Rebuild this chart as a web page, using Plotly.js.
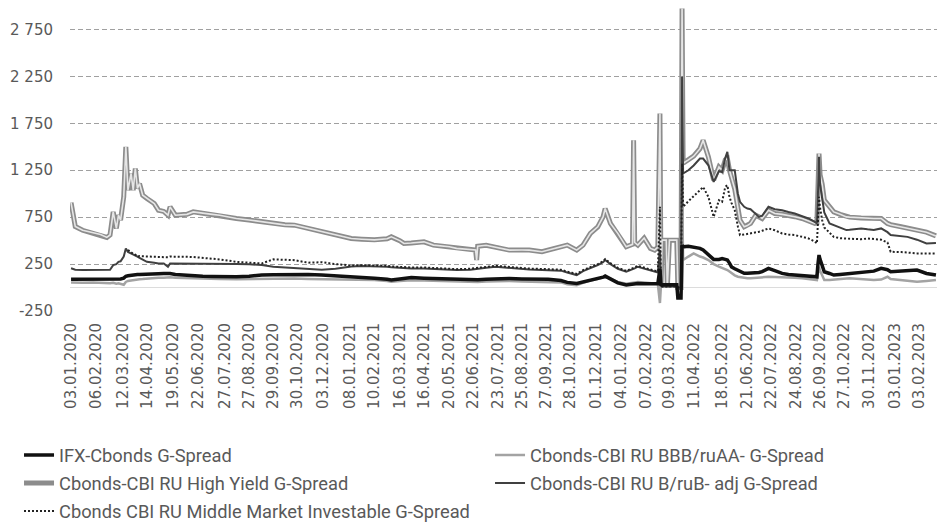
<!DOCTYPE html>
<html><head><meta charset="utf-8">
<script src="https://cdn.plot.ly/plotly-3.0.1.min.js"></script>
<style>html,body{margin:0;padding:0;background:#fff}#chart{width:939px;height:525px}</style>
</head><body><div id="chart"></div>
<script>
const xLabels = ['03.01.2020','06.02.2020','12.03.2020','14.04.2020','19.05.2020','22.06.2020','27.07.2020','27.08.2020','29.09.2020','30.10.2020','03.12.2020','08.01.2021','10.02.2021','16.03.2021','16.04.2021','20.05.2021','22.06.2021','23.07.2021','25.08.2021','27.09.2021','28.10.2021','01.12.2021','04.01.2022','07.02.2022','09.03.2022','11.04.2022','18.05.2022','21.06.2022','22.07.2022','24.08.2022','26.09.2022','27.10.2022','30.11.2022','03.01.2023','03.02.2023'];

const dates = ['03.01.2020','09.01.2020','20.01.2020','03.02.2020','12.02.2020','20.02.2020','25.02.2020','28.02.2020','04.03.2020','06.03.2020','10.03.2020','13.03.2020','17.03.2020','19.03.2020','24.03.2020','26.03.2020','30.03.2020','01.04.2020','03.04.2020','08.04.2020','14.04.2020','23.04.2020','29.04.2020','06.05.2020','12.05.2020','14.05.2020','21.05.2020','05.06.2020','15.06.2020','26.06.2020','09.07.2020','20.07.2020','11.08.2020','27.08.2020','14.09.2020','29.09.2020','14.10.2020','27.10.2020','13.11.2020','02.12.2020','21.12.2020','11.01.2021','25.01.2021','10.02.2021','26.02.2021','04.03.2021','16.03.2021','22.03.2021','31.03.2021','16.04.2021','29.04.2021','20.05.2021','31.05.2021','17.06.2021','24.06.2021','25.06.2021','28.06.2021','08.07.2021','21.07.2021','09.08.2021','25.08.2021','03.09.2021','21.09.2021','29.09.2021','15.10.2021','25.10.2021','05.11.2021','15.11.2021','24.11.2021','03.12.2021','10.12.2021','14.12.2021','21.12.2021','30.12.2021','11.01.2022','19.01.2022','20.01.2022','21.01.2022','26.01.2022','03.02.2022','11.02.2022','17.02.2022','22.02.2022','24.02.2022','25.02.2022','28.02.2022','04.03.2022','07.03.2022','09.03.2022','18.03.2022','21.03.2022','24.03.2022','25.03.2022','28.03.2022','04.04.2022','11.04.2022','19.04.2022','22.04.2022','29.04.2022','06.05.2022','13.05.2022','18.05.2022','23.05.2022','25.05.2022','27.05.2022','31.05.2022','03.06.2022','08.06.2022','10.06.2022','16.06.2022','21.06.2022','24.06.2022','01.07.2022','06.07.2022','11.07.2022','19.07.2022','27.07.2022','05.08.2022','15.08.2022','23.08.2022','01.09.2022','09.09.2022','19.09.2022','21.09.2022','22.09.2022','23.09.2022','26.09.2022','28.09.2022','30.09.2022','07.10.2022','13.10.2022','21.10.2022','31.10.2022','03.11.2022','18.11.2022','28.11.2022','06.12.2022','15.12.2022','23.12.2022','28.12.2022','11.01.2023','19.01.2023','01.02.2023','14.02.2023','27.02.2023'];

const hy = [905,650,610,580,565,534,560,806,630,771,719,966,1498,1037,1215,1037,1268,1055,1108,984,949,895,824,811,771,860,771,780,806,789,780,771,736,720,700,680,668,665,630,594,560,523,515,508,520,540,500,470,475,487,452,435,417,399,400,293,440,450,431,399,400,399,381,399,434,452,399,452,577,647,753,842,683,577,434,460,1569,480,452,527,417,399,430,1855,0,505,505,0,505,505,0,0,2973,1324,1360,1400,1480,1569,1392,1144,1285,1250,1360,1374,1250,1179,1050,850,718,647,660,683,771,760,736,824,789,780,771,755,736,710,683,690,1000,1428,1200,1100,931,860,806,780,753,750,740,736,736,736,683,670,647,630,612,590,550];

const bbb = [55,52,52,55,50,48,45,50,40,45,37,30,60,70,75,80,82,85,88,90,95,100,105,105,110,110,105,100,98,95,92,90,88,90,92,95,95,95,92,90,88,85,85,80,70,62,70,75,78,75,72,68,65,60,58,58,60,65,70,70,65,63,62,60,55,35,25,50,75,90,105,115,95,60,40,50,55,55,60,55,45,40,40,-165,30,20,20,20,20,20,0,0,1000,293,330,364,330,320,293,250,222,210,200,186,170,150,130,115,110,100,98,98,105,108,110,115,112,110,110,105,98,90,80,80,150,222,180,120,80,80,82,90,95,98,90,85,80,85,115,90,80,75,62,70,80];

const ifx = [87,87,88,85,85,85,88,90,88,90,92,100,120,125,133,135,138,140,140,140,142,145,148,150,151,150,140,130,122,120,118,115,115,120,133,135,138,140,138,133,125,118,115,100,88,80,92,100,106,100,97,92,88,82,80,80,82,88,95,97,92,90,89,88,75,55,44,60,73,95,110,122,95,50,27,35,38,40,44,40,36,36,40,200,20,30,30,30,30,30,-112,-112,450,434,440,430,417,400,346,300,300,310,300,293,260,220,200,186,170,151,151,151,151,160,170,204,180,151,140,135,133,125,115,115,250,346,300,220,168,150,133,140,145,151,160,168,175,204,190,168,175,179,186,150,133];

const bAdj = [205,190,188,188,186,186,190,239,250,274,280,330,417,380,364,350,346,330,315,300,274,265,257,257,222,257,257,257,255,255,255,252,250,248,239,222,215,204,195,190,200,225,229,229,222,215,208,204,204,204,198,192,186,190,194,195,198,210,222,210,194,192,188,186,180,160,133,175,204,240,270,293,250,200,168,190,200,205,222,200,186,168,160,400,20,10,10,10,10,10,0,0,2250,1215,1250,1300,1374,1374,1303,1126,1240,1232,1380,1445,1250,1250,1250,1000,913,860,842,835,790,753,765,860,835,824,805,789,760,736,700,683,1000,1392,1100,931,800,683,665,640,612,615,630,620,612,630,590,559,550,540,510,470,475];

const mm = [null,null,null,null,null,null,null,null,null,null,null,null,null,400,370,360,350,331,335,330,331,328,327,325,322,330,331,327,325,318,310,300,274,268,257,300,295,292,265,270,250,235,238,238,232,225,218,215,214,214,208,202,196,200,204,205,208,220,232,220,204,202,198,196,190,170,145,185,214,250,280,303,260,210,178,200,210,215,232,210,196,178,170,860,20,10,10,10,10,10,0,0,1320,860,920,970,1037,1072,966,753,931,913,1072,1090,966,900,824,650,559,565,570,576,585,594,605,630,610,576,565,559,540,523,490,470,700,966,850,718,640,580,540,525,523,523,515,523,520,510,480,381,378,370,364,364,364];

const seriesNames = ['IFX-Cbonds G-Spread','Cbonds-CBI RU BBB/ruAA- G-Spread','Cbonds-CBI RU High Yield G-Spread','Cbonds-CBI RU B/ruB- adj G-Spread','Cbonds CBI RU Middle Market Investable G-Spread'];
const yTickVals = [-250,250,750,1250,1750,2250,2750];
const yTickText = ['-250','250','750','1 250','1 750','2 250','2 750'];

function iso(s){const p=s.split('.');return p[2]+'-'+p[1]+'-'+p[0];}
const X = dates.map(iso);

const traces = [
  {x:X,y:hy,name:seriesNames[2],type:'scatter',mode:'lines',line:{color:'#8c8c8c',width:5},legend:'legend2',legendrank:1,legendwidth:426},
  {x:X,y:hy,name:seriesNames[2],type:'scatter',mode:'lines',line:{color:'#e6e6e6',width:1.6},showlegend:false},
  {x:X,y:bbb,name:seriesNames[1],type:'scatter',mode:'lines',line:{color:'#a3a3a3',width:2.5},legend:'legend',legendrank:2},
  {x:X,y:bAdj,name:seriesNames[3],type:'scatter',mode:'lines',line:{color:'#404040',width:2},legend:'legend2',legendrank:2},
  {x:X,y:mm,name:seriesNames[4],type:'scatter',mode:'lines',line:{color:'#222',width:2,dash:'2px,2px'},legend:'legend3',legendrank:1},
  {x:X,y:ifx,name:seriesNames[0],type:'scatter',mode:'lines',line:{color:'#111',width:3.5},legend:'legend',legendrank:1,legendwidth:426}
];

const legFont = {family:'Roboto, sans-serif',size:18.3,color:'#595959'};
function leg(y){return {orientation:'h',x:-0.0588,xanchor:'left',y:y,yanchor:'top',font:legFont,bgcolor:'rgba(0,0,0,0)',itemwidth:30,traceorder:'normal'};}

const layout = {
  width:939,height:525,
  margin:{l:70,r:2,t:6,b:214,autoexpand:false},
  paper_bgcolor:'#fff',plot_bgcolor:'#fff',
  font:{family:'DejaVu Sans, sans-serif',size:15,color:'#595959'},
  xaxis:{type:'date',range:['2020-01-02','2023-02-28'],rangebreaks:[{bounds:['sat','mon']}],
    tickmode:'array',tickvals:xLabels.map(iso),ticktext:xLabels,tickangle:-90,
    showgrid:false,showline:false,zeroline:false,ticks:'',ticklabelstandoff:8,
    tickfont:{family:'DejaVu Sans, sans-serif',size:15,color:'#595959'}},
  yaxis:{range:[-250,3000],tickmode:'array',tickvals:yTickVals,ticktext:yTickText,
    showgrid:true,gridcolor:'#a0a0a0',gridwidth:1,griddash:'5px,3px',
    zeroline:true,zerolinecolor:'#dcdcdc',zerolinewidth:1,showline:false,ticks:'',ticklabelstandoff:16,
    tickfont:{family:'DejaVu Sans, sans-serif',size:15,color:'#595959'}},
  showlegend:true,
  legend:leg(-0.4115),
  legend2:leg(-0.5033),
  legend3:leg(-0.5951),
  hovermode:false
};

Plotly.newPlot('chart',traces,layout,{staticPlot:true,displayModeBar:false});
</script>
</body></html>
